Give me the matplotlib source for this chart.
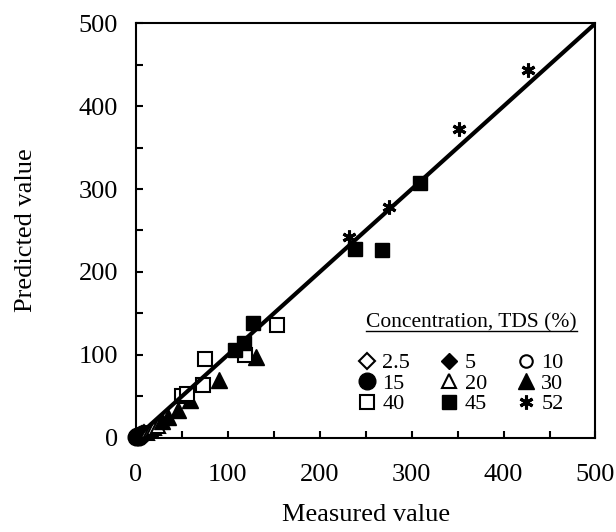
import matplotlib
matplotlib.use("Agg")
import matplotlib.pyplot as plt
from matplotlib.lines import Line2D

plt.rcParams['font.family'] = ['Liberation Serif', 'DejaVu Serif']

# measured / predicted values for each TDS concentration (%)
m_2_5 = [2, 4, 6, 9]
p_2_5 = [1, 3, 4, 6]
m_5 = [1, 3, 5, 8]
p_5 = [2, 2, 4, 6]
m_10 = [2, 4, 7, 11]
p_10 = [1, 2, 5, 7]
m_15 = [0.5, 1.5, 3, 5, 7]
p_15 = [0.5, 2, 1, 3, 4]
m_20 = [12, 16, 20, 24]
p_20 = [6, 9, 12, 14]
m_30 = [28, 35, 46, 59, 90, 131]
p_30 = [20, 25, 33, 45, 70, 97]
m_40 = [50, 55, 73, 75, 119, 153]
p_40 = [50, 53, 64, 95, 100, 136]
m_45 = [108, 117, 127, 238, 268, 309]
p_45 = [106, 114, 138, 228, 226, 307]
m_52 = [232, 275, 351, 427]
p_52 = [242, 278, 373, 444]

labels = ['2.5', '5', '10', '15', '20', '30', '40', '45', '52']
line_x = [0, 500]
line_y = [0, 500]

fig = plt.figure(figsize=(6.16, 5.32), dpi=100)
ax = fig.add_axes([0.2208, 0.1773, 0.7459, 0.7789])

ms = 10
k = dict(color='black', linestyle='none', clip_on=False, zorder=2)
h_2_5, = ax.plot(m_2_5, p_2_5, marker='D', markersize=ms - 2, markerfacecolor='white', markeredgewidth=1.5, **k)
h_5, = ax.plot(m_5, p_5, marker='D', markersize=ms - 2, **k)
h_10, = ax.plot(m_10, p_10, marker='o', markersize=ms - 1, markerfacecolor='white', markeredgewidth=1.5, **k)
h_15, = ax.plot(m_15, p_15, marker='o', markersize=ms + 2, **k)
h_20, = ax.plot(m_20, p_20, marker='^', markersize=ms, markerfacecolor='white', markeredgewidth=1.5, **k)
h_30, = ax.plot(m_30, p_30, marker='^', markersize=ms + 1, **k)
h_40, = ax.plot(m_40, p_40, marker='s', markersize=ms, markerfacecolor='white', markeredgewidth=1.5, **k)
h_45, = ax.plot(m_45, p_45, marker='s', markersize=ms, **k)
h_52, = ax.plot(m_52, p_52, marker=(6, 2, 0), markersize=ms, markeredgewidth=2.2, **k)

ax.plot(line_x, line_y, color='black', linewidth=3, zorder=3)

ax.set_xlim(0, 500)
ax.set_ylim(0, 500)
ax.set_xticks([0, 100, 200, 300, 400, 500])
ax.set_yticks([0, 100, 200, 300, 400, 500])
ax.set_xticks(range(50, 500, 100), minor=True)
ax.set_yticks(range(50, 500, 100), minor=True)
ax.tick_params(which='both', direction='in', length=5, width=1.5, labelsize=19)
ax.tick_params(axis='x', which='major', pad=19)
ax.tick_params(axis='y', which='major', pad=13)
for s in ax.spines.values():
    s.set_linewidth(1.5)

ax.set_xlabel('Measured value', fontsize=19, labelpad=13)
ax.set_ylabel('Predicted value', fontsize=19, labelpad=30)

# legend columns are filled top-down, so order handles column by column
handles = [h_2_5, h_15, h_40, h_5, h_20, h_45, h_10, h_30, h_52]
names = [labels[0], labels[3], labels[6], labels[1], labels[4], labels[7], labels[2], labels[5], labels[8]]
leg = ax.legend(handles, names, ncol=3, frameon=False, fontsize=16,
                loc='upper left', bbox_to_anchor=(0.49, 0.205),
                handlelength=0.5, handletextpad=0.45, columnspacing=1.5,
                labelspacing=0.0, borderpad=0, borderaxespad=0)

t = ax.text(0.73, 0.277, 'Concentration, TDS (%)', transform=ax.transAxes,
            ha='center', va='center', fontsize=15.5)
fig.canvas.draw()
bb = t.get_window_extent().transformed(fig.transFigure.inverted())
fig.add_artist(Line2D([bb.x0, bb.x1], [bb.y0 + 0.002, bb.y0 + 0.002],
                      transform=fig.transFigure, color='black', linewidth=1))

plt.savefig('out.png', dpi=100)
